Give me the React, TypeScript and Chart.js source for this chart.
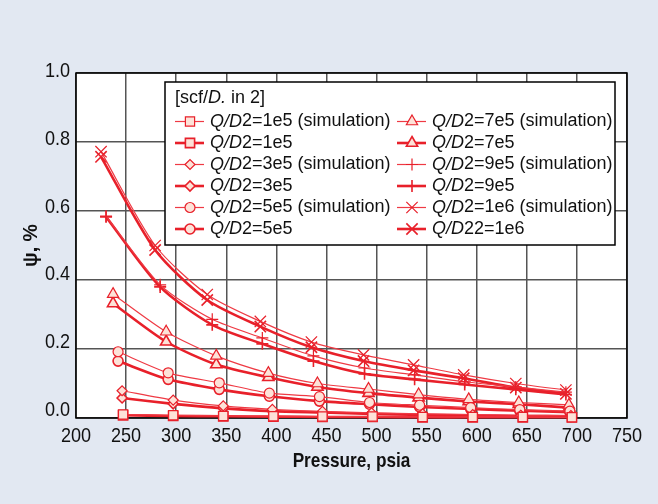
import React, { useEffect, useRef } from 'react';
import { Chart, registerables } from 'chart.js';
import { drawPoint } from 'chart.js/helpers';

Chart.register(...registerables);

// ---- Data ----
const xTickValues = [200, 250, 300, 350, 400, 450, 500, 550, 600, 650, 700, 750];
const yTickValues = [0.0, 0.2, 0.4, 0.6, 0.8, 1.0];

const pressure1e5 = [247, 297, 347, 397, 446, 496, 546, 596, 646, 695];
const pressure3e5 = [246, 297, 347, 396, 446, 495, 546, 596, 644, 694];
const pressure5e5 = [242, 292, 343, 393, 443, 493, 543, 594, 643, 693];
const pressure7e5 = [237, 290, 340, 392, 441, 492, 542, 592, 642, 692];
const pressure9e5 = [230, 284, 336, 386, 437, 488, 538, 588, 639, 689];
const pressure1e6 = [225, 279, 331, 384, 435, 487, 537, 587, 639, 689];

const sim1e5 = [0.010, 0.008, 0.006, 0.005, 0.004, 0.004, 0.003, 0.003, 0.003, 0.002];
const model1e5 = [0.008, 0.006, 0.005, 0.004, 0.003, 0.003, 0.002, 0.002, 0.002, 0.002];
const sim3e5 = [0.079, 0.052, 0.035, 0.025, 0.019, 0.015, 0.012, 0.010, 0.008, 0.007];
const model3e5 = [0.058, 0.041, 0.028, 0.020, 0.016, 0.012, 0.009, 0.007, 0.006, 0.005];
const sim5e5 = [0.192, 0.131, 0.102, 0.072, 0.062, 0.045, 0.037, 0.030, 0.024, 0.020];
const model5e5 = [0.165, 0.112, 0.083, 0.063, 0.049, 0.040, 0.032, 0.026, 0.021, 0.017];
const sim7e5 = [0.359, 0.250, 0.180, 0.130, 0.100, 0.084, 0.068, 0.054, 0.045, 0.038];
const model7e5 = [0.332, 0.221, 0.155, 0.118, 0.090, 0.072, 0.059, 0.048, 0.040, 0.030];
const sim9e5 = [0.585, 0.386, 0.286, 0.232, 0.180, 0.145, 0.125, 0.105, 0.090, 0.075];
const model9e5 = [0.583, 0.380, 0.270, 0.215, 0.165, 0.128, 0.112, 0.097, 0.083, 0.068];
const sim1e6 = [0.772, 0.500, 0.358, 0.280, 0.220, 0.183, 0.154, 0.125, 0.100, 0.081];
const model1e6 = [0.757, 0.487, 0.342, 0.265, 0.205, 0.165, 0.138, 0.115, 0.088, 0.070];

const seriesLabels = [
  'Q/D2=1e5 (simulation)', 'Q/D2=1e5',
  'Q/D2=3e5 (simulation)', 'Q/D2=3e5',
  'Q/D2=5e5 (simulation)', 'Q/D2=5e5',
  'Q/D2=7e5 (simulation)', 'Q/D2=7e5',
  'Q/D2=9e5 (simulation)', 'Q/D2=9e5',
  'Q/D2=1e6 (simulation)', 'Q/D22=1e6',
];
const legendTitle = ['[scf/', 'D.', ' in 2]'];
const xTitle = 'Pressure, psia';
const yTitle = 'ψ, %';

// ---- Styles ----
const FONT = "'Liberation Sans', Arial, sans-serif";
const BG = '#e2e8f2';
const SIM_COLOR = '#ef3a44';
const MODEL_COLOR = '#e8202a';
const MARKER_FILL = '#fde2d8';
const TEXT = '#111';

type Series = { x: number[]; y: number[]; style: string; radius: number; sim: boolean };

const series: Series[] = [
  { x: pressure1e5, y: sim1e5, style: 'rect', radius: 6.5, sim: true },
  { x: pressure1e5, y: model1e5, style: 'rect', radius: 6.5, sim: false },
  { x: pressure3e5, y: sim3e5, style: 'rectRot', radius: 5, sim: true },
  { x: pressure3e5, y: model3e5, style: 'rectRot', radius: 5, sim: false },
  { x: pressure5e5, y: sim5e5, style: 'circle', radius: 5, sim: true },
  { x: pressure5e5, y: model5e5, style: 'circle', radius: 5, sim: false },
  { x: pressure7e5, y: sim7e5, style: 'triangle', radius: 6.5, sim: true },
  { x: pressure7e5, y: model7e5, style: 'triangle', radius: 6.5, sim: false },
  { x: pressure9e5, y: sim9e5, style: 'cross', radius: 6, sim: true },
  { x: pressure9e5, y: model9e5, style: 'cross', radius: 6, sim: false },
  { x: pressure1e6, y: sim1e6, style: 'crossRot', radius: 8, sim: true },
  { x: pressure1e6, y: model1e6, style: 'crossRot', radius: 8, sim: false },
];

function drawRich(ctx: CanvasRenderingContext2D, parts: [string, boolean][], x: number, y: number, size: number) {
  let cx = x;
  ctx.textBaseline = 'middle';
  ctx.textAlign = 'left';
  ctx.fillStyle = TEXT;
  for (const [t, it] of parts) {
    ctx.font = `${it ? 'italic ' : ''}${size}px ${FONT}`;
    ctx.fillText(t, cx, y);
    cx += ctx.measureText(t).width;
  }
}

function drawNarrow(ctx: CanvasRenderingContext2D, text: string, x: number, y: number, sx: number, align: CanvasTextAlign, rot = 0) {
  ctx.save();
  ctx.translate(x, y);
  if (rot) ctx.rotate(rot);
  ctx.scale(sx, 1);
  ctx.textAlign = align;
  ctx.textBaseline = 'middle';
  ctx.fillText(text, 0, 0);
  ctx.restore();
}

const bgPlugin = {
  id: 'bgPlugin',
  beforeDraw(chart: any) {
    const { ctx, chartArea: a, width, height } = chart;
    ctx.save();
    ctx.fillStyle = BG;
    ctx.fillRect(0, 0, width, height);
    ctx.fillStyle = '#ffffff';
    ctx.fillRect(a.left, a.top, a.right - a.left, a.bottom - a.top);
    ctx.restore();
  },
  beforeDatasetsDraw(chart: any) {
    const { ctx, chartArea: a } = chart;
    ctx.save();
    ctx.strokeStyle = '#000';
    ctx.lineWidth = 1.5;
    ctx.strokeRect(a.left, a.top, a.right - a.left, a.bottom - a.top);
    ctx.restore();
  },
  afterDatasetsDraw(chart: any) {
    const ctx: CanvasRenderingContext2D = chart.ctx;
    const a = chart.chartArea;
    const bx = a.left + 89, by = a.top + 9, bw = 450, bh = 163;
    ctx.save();
    ctx.fillStyle = '#fff';
    ctx.fillRect(bx, by, bw, bh);
    ctx.strokeStyle = '#000';
    ctx.lineWidth = 1.5;
    ctx.strokeRect(bx, by, bw, bh);
    drawRich(ctx, [[legendTitle[0], false], [legendTitle[1], true], [legendTitle[2], false]], bx + 10, by + 16, 18);
    chart.data.datasets.forEach((ds: any, i: number) => {
      const col = i < 6 ? 0 : 1;
      const row = i % 6;
      const x0 = bx + 10 + col * 222;
      const y = by + 39.5 + row * 21.5;
      ctx.strokeStyle = ds.borderColor;
      ctx.lineWidth = ds.borderWidth;
      ctx.beginPath();
      ctx.moveTo(x0, y);
      ctx.lineTo(x0 + 29, y);
      ctx.stroke();
      ctx.fillStyle = ds.pointBackgroundColor;
      ctx.strokeStyle = ds.pointBorderColor;
      ctx.lineWidth = ds.pointBorderWidth;
      drawPoint(ctx, { pointStyle: ds.pointStyle, radius: ds.pointRadius, rotation: 0, borderWidth: ds.pointBorderWidth } as any, x0 + 15, y);
      const label: string = ds.label;
      const k = label.indexOf('D') + 1;
      drawRich(ctx, [[label.slice(0, k), true], [label.slice(k), false]], x0 + 35, y, 18);
    });
    ctx.restore();
  },
  afterDraw(chart: any) {
    const ctx: CanvasRenderingContext2D = chart.ctx;
    const a = chart.chartArea;
    const xs = chart.scales.x;
    const ys = chart.scales.y;
    ctx.save();
    ctx.fillStyle = TEXT;
    ctx.font = `21px ${FONT}`;
    xTickValues.forEach((v) => {
      drawNarrow(ctx, String(v), xs.getPixelForValue(v), a.bottom + 18, 0.86, 'center');
    });
    yTickValues.forEach((v) => {
      const py = ys.getPixelForValue(v) - (1.5 + (1 - v) * 6.5);
      drawNarrow(ctx, v.toFixed(1), a.left - 6, py, 0.86, 'right');
    });
    ctx.font = `bold 21px ${FONT}`;
    drawNarrow(ctx, xTitle, (a.left + a.right) / 2, 461, 0.82, 'center');
    drawNarrow(ctx, yTitle, 31, (a.top + a.bottom) / 2, 0.93, 'center', -Math.PI / 2);
    ctx.restore();
  },
};

export default function App() {
  const ref = useRef<HTMLCanvasElement | null>(null);
  useEffect(() => {
    document.body.style.margin = '0';
    const canvas = ref.current;
    if (!canvas) return;
    const datasets = series.map((s, i) => ({
      label: seriesLabels[i],
      data: s.x.map((xv, j) => ({ x: xv, y: s.y[j] })),
      borderColor: s.sim ? SIM_COLOR : MODEL_COLOR,
      borderWidth: s.sim ? 1.2 : 2.6,
      pointStyle: s.style,
      pointRadius: s.radius,
      pointBackgroundColor: MARKER_FILL,
      pointBorderColor: MODEL_COLOR,
      pointBorderWidth: s.sim ? 1.2 : 1.6,
      tension: 0.25,
      fill: false,
      clip: false as any,
    }));
    const chart = new Chart(canvas, {
      type: 'line',
      data: { datasets },
      plugins: [bgPlugin],
      options: {
        responsive: false,
        animation: false,
        devicePixelRatio: 1,
        layout: { padding: { top: 73, right: 31, left: 0, bottom: 0 } },
        plugins: { legend: { display: false }, tooltip: { enabled: false } },
        scales: {
          x: {
            type: 'linear',
            min: xTickValues[0],
            max: xTickValues[xTickValues.length - 1],
            afterBuildTicks: (scale: any) => { scale.ticks = xTickValues.map((v) => ({ value: v })); },
            afterFit: (scale: any) => { scale.height = 86; },
            ticks: { display: false },
            grid: { color: '#555', lineWidth: 1.5, drawTicks: false },
            border: { display: false },
            title: { display: false, text: xTitle },
          },
          y: {
            type: 'linear',
            min: yTickValues[0],
            max: yTickValues[yTickValues.length - 1],
            afterBuildTicks: (scale: any) => { scale.ticks = yTickValues.map((v) => ({ value: v })); },
            afterFit: (scale: any) => { scale.width = 76; },
            ticks: { display: false },
            grid: { color: '#555', lineWidth: 1.5, drawTicks: false },
            border: { display: false },
            title: { display: false, text: yTitle },
          },
        },
      } as any,
    });
    return () => chart.destroy();
  }, []);
  return (
    <div style={{ width: 658, height: 504, background: BG }}>
      <canvas ref={ref} width={658} height={504} style={{ display: 'block', width: 658, height: 504 }} />
    </div>
  );
}
